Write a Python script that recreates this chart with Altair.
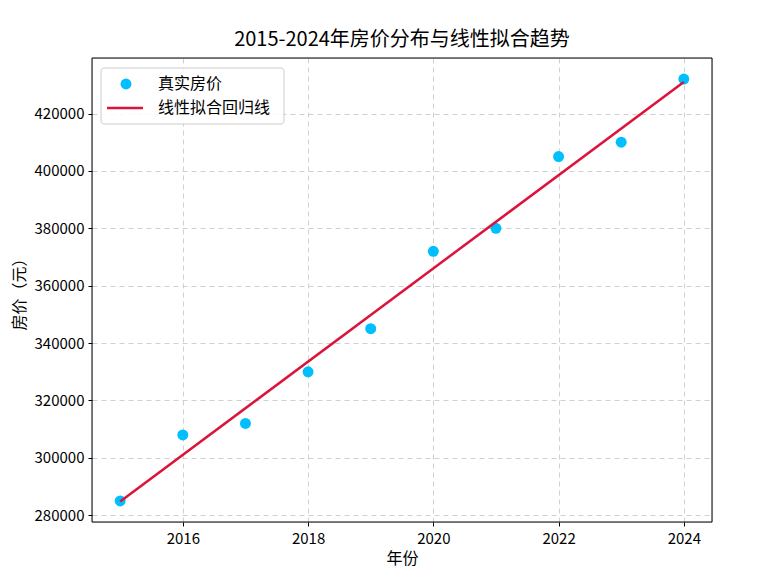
import altair as alt
import pandas as pd

years = [2015, 2016, 2017, 2018, 2019, 2020, 2021, 2022, 2023, 2024]
prices = [285000, 308000, 312000, 330000, 345000, 372000, 380000, 405000, 410000, 432000]
x_ticks = [2016, 2018, 2020, 2022, 2024]
y_ticks = [280000, 300000, 320000, 340000, 360000, 380000, 400000, 420000]
legend_labels = ["真实房价", "线性拟合回归线"]

FONT = "Noto Sans CJK SC"
W, H = 620, 464
df = pd.DataFrame({"year": years, "price": prices})

xs = alt.Scale(domain=[2014.55, 2024.45], nice=False, zero=False)
ys = alt.Scale(domain=[277650, 439350], nice=False, zero=False)

common = dict(grid=True, gridDash=[5, 4], gridColor="#d0d0d0", tickSize=4, tickColor="black",
              domain=False, labelFontSize=15, titleFontSize=16, labelColor="black",
              titleColor="black", titleFontWeight="normal", labelFont=FONT, titleFont=FONT)
x_axis = alt.Axis(values=x_ticks, format="d", title="年份", labelPadding=5, titlePadding=4, **common)
y_axis = alt.Axis(values=y_ticks, format="d", title="房价（元）", labelPadding=4, titlePadding=7, **common)

base = alt.Chart(df)

points = base.mark_circle(size=120, color="#00BFFF", opacity=1).encode(
    x=alt.X("year:Q", scale=xs, axis=x_axis),
    y=alt.Y("price:Q", scale=ys, axis=y_axis),
)

line = base.transform_regression("year", "price", extent=[2015, 2024]).mark_line(
    color="#DC143C", strokeWidth=2.5
).encode(
    x=alt.X("year:Q", scale=xs),
    y=alt.Y("price:Q", scale=ys),
)

leg_df = pd.DataFrame({"label": legend_labels, "i": [0, 1]})
frame = alt.Chart(leg_df).transform_filter("datum.i == 0").mark_rect(
    fill="transparent", stroke="black", strokeWidth=1
).encode(x=alt.value(0), x2=alt.value(W), y=alt.value(0), y2=alt.value(H))
leg_box = alt.Chart(leg_df).transform_filter("datum.i == 0").mark_rect(
    fill="white", fillOpacity=0.85, stroke="#cccccc", strokeWidth=1, cornerRadius=3
).encode(x=alt.value(9), x2=alt.value(192), y=alt.value(10), y2=alt.value(66))
leg_dot = alt.Chart(leg_df).transform_filter("datum.i == 0").mark_circle(
    size=120, color="#00BFFF", opacity=1
).encode(x=alt.value(34), y=alt.value(26))
leg_line = alt.Chart(leg_df).transform_filter("datum.i == 1").mark_rule(
    color="#DC143C", strokeWidth=2.5
).encode(x=alt.value(15), x2=alt.value(51), y=alt.value(50))
leg_text0 = alt.Chart(leg_df).transform_filter("datum.i == 0").mark_text(
    align="left", baseline="middle", fontSize=16, font=FONT, color="black"
).encode(x=alt.value(66), y=alt.value(26), text="label:N")
leg_text1 = alt.Chart(leg_df).transform_filter("datum.i == 1").mark_text(
    align="left", baseline="middle", fontSize=16, font=FONT, color="black"
).encode(x=alt.value(66), y=alt.value(50), text="label:N")

chart = alt.layer(points, line, frame, leg_box, leg_dot, leg_line, leg_text0, leg_text1).properties(
    width=W, height=H,
    title=alt.TitleParams("2015-2024年房价分布与线性拟合趋势", fontSize=20, font=FONT,
                          fontWeight="normal", color="black", offset=8),
    autosize=alt.AutoSizeParams(type="none"),
    padding={"left": 84, "top": 50, "right": 37, "bottom": 49},
).configure_view(stroke=None).configure(background="white")

chart.save("out.html", embed_options={"renderer": "svg", "actions": False})
